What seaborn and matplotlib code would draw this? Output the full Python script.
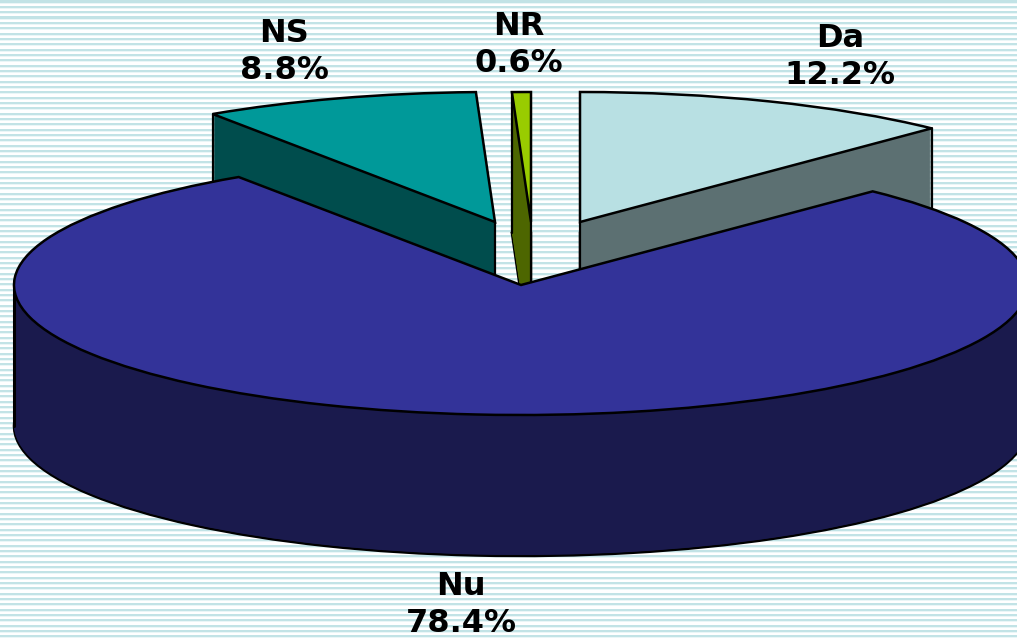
import matplotlib
matplotlib.use("Agg")
import matplotlib.pyplot as plt
import numpy as np
import seaborn as sns

labels = ["Da", "Nu", "NS", "NR"]
shares = [12.2, 78.4, 8.8, 0.6]

top_colors = ["#B8E0E3", "#333399", "#009999", "#99CC00"]
side_colors = ["#5C7072", "#1A1A4D", "#004D4D", "#4D6600"]

# layout in reference pixels
W, H = 1017, 639
RX, RY = 507, 130
CX, CY = 521, 285
DEPTH = 141
offsets = [(59, -63), (0, 0), (-26, -63), (10, -63)]
label_pos = [(840, 57), (461, 605), (284, 52), (519, 45)]
# Nu sits in front of the three pulled-out slices
layer = [0, 2, 0, 0]


def to_data(px, py):
    return (px - CX) / RX, (CY - py) / RY


sns.set_theme(style="white")
fig, ax = plt.subplots(figsize=(W / 100, H / 100), dpi=100)
ax.set_position([0, 0, 1, 1])

# stacked copies of the pie make the sides of the slices
for d in range(DEPTH, 0, -1):
    wedges, _ = ax.pie(shares, colors=side_colors, startangle=90, counterclock=False,
                       wedgeprops={"linewidth": 0})
    for w, off, z in zip(wedges, offsets, layer):
        w.set_center((off[0] / RX, (-off[1] - d) / RY))
        w.set_zorder(z + 1)
        if d == DEPTH:
            w.set_edgecolor("black")
            w.set_linewidth(1.8)

# top faces
wedges, _ = ax.pie(shares, colors=top_colors, startangle=90, counterclock=False,
                   wedgeprops={"linewidth": 1.8, "edgecolor": "black"})
for w, off, z in zip(wedges, offsets, layer):
    w.set_center((off[0] / RX, -off[1] / RY))
    w.set_zorder(z + 2)
    w.set_joinstyle("miter")
    if z > 0:
        continue

    # vertical edges under the apex and the outer rim corner
    t = max(np.deg2rad([w.theta1, w.theta2]), key=lambda a: abs(np.cos(a)))
    x_rim = off[0] / RX + np.cos(t)
    y_rim = -off[1] / RY + np.sin(t)
    ax.plot([x_rim, x_rim], [y_rim, y_rim - DEPTH / RY], color="black", lw=1.6, zorder=z + 1.5)
    x_apex = off[0] / RX
    y_apex = -off[1] / RY
    ax.plot([x_apex, x_apex], [y_apex, y_apex - DEPTH / RY], color="black", lw=1.6, zorder=z + 1.5)

# silhouette edge on the left of the big slice
ax.plot([-1.0, -1.0], [0, -DEPTH / RY], color="black", lw=2.2, zorder=3.5)

ax.set_aspect("auto")
ax.set_xlim(to_data(0, 0)[0], to_data(W, 0)[0])
ax.set_ylim(to_data(0, H)[1], to_data(0, 0)[1])
ax.axis("on")
ax.set_frame_on(False)
ax.set_xticks([])
ax.set_yticks([])

# striped slide background
for py in np.arange(1.5, H, 16 / 3):
    ax.axhspan(to_data(0, py + 1)[1], to_data(0, py - 1)[1], color="#C2E3E6", lw=0, zorder=-2)
    ax.axhspan(to_data(0, py + 2)[1], to_data(0, py + 1)[1], color="#EAF6F7", lw=0, zorder=-2)

for name, share, pos in zip(labels, shares, label_pos):
    x, y = to_data(*pos)
    ax.text(x, y, f"{name}\n{share}%", ha="center", va="center", fontsize=23,
            fontweight="bold", family="DejaVu Sans", color="black", linespacing=1.28, zorder=10)

fig.savefig("out.png", dpi=100, facecolor="white")
